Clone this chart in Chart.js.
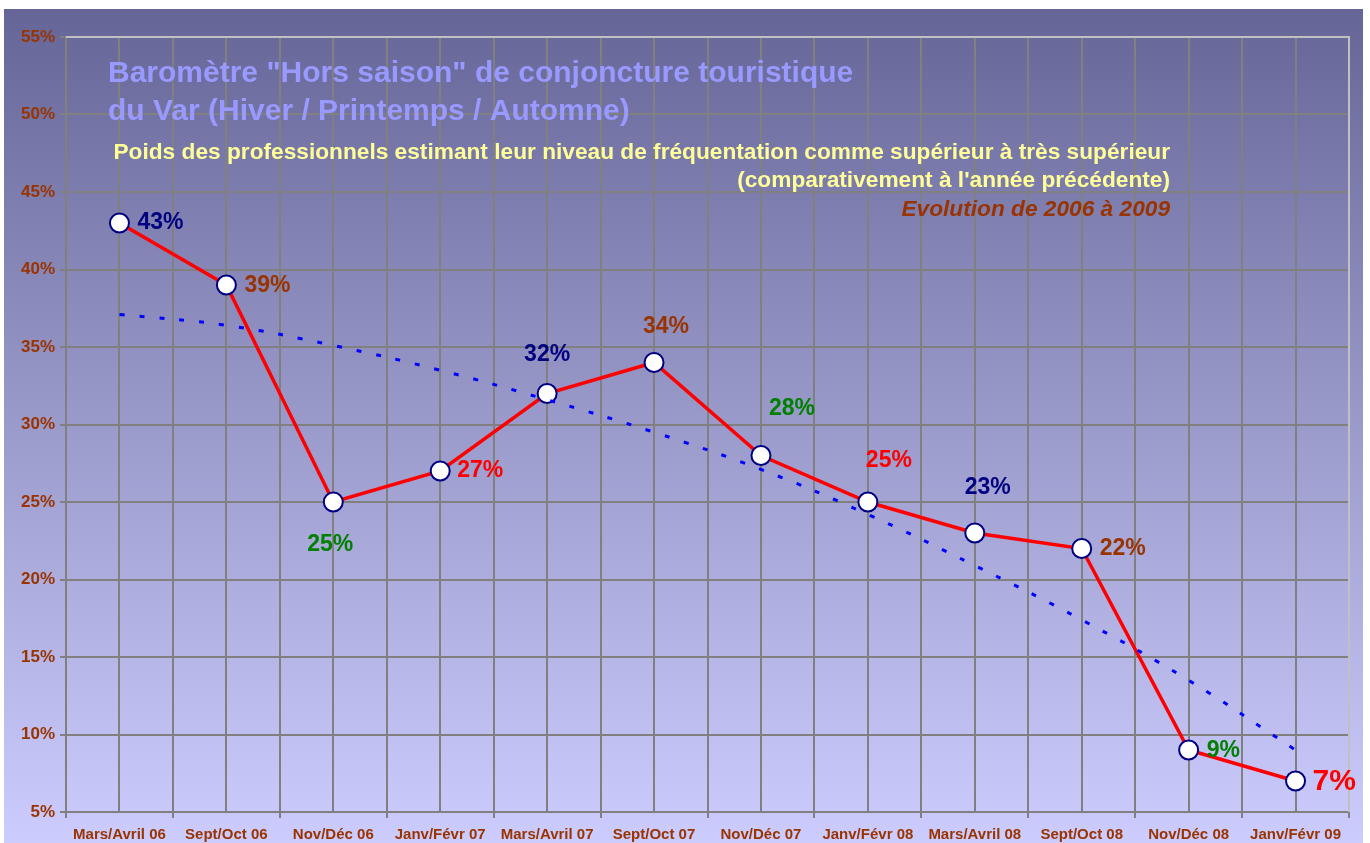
<!DOCTYPE html>
<html>
<head>
<meta charset="utf-8">
<script src="https://cdn.jsdelivr.net/npm/chart.js@4.4.0/dist/chart.umd.min.js"></script>
<style>
  html, body { margin: 0; padding: 0; background: #ffffff; }
  #wrap { width: 1370px; height: 843px; }
</style>
</head>
<body>
<div id="wrap"><canvas id="myChart" width="1370" height="843"></canvas></div>
<script>
// data
const periods = ['Mars/Avril 06', 'Sept/Oct 06', 'Nov/Déc 06', 'Janv/Févr 07', 'Mars/Avril 07', 'Sept/Oct 07',
                 'Nov/Déc 07', 'Janv/Févr 08', 'Mars/Avril 08', 'Sept/Oct 08', 'Nov/Déc 08', 'Janv/Févr 09'];
const shares = [43, 39, 25, 27, 32, 34, 28, 25, 23, 22, 9, 7];
const trend = [37.1, 36.4, 35.1, 33.5, 31.6, 29.5, 27.1, 24.2, 20.9, 17.4, 13.5, 9.0];
const yTicks = [5, 10, 15, 20, 25, 30, 35, 40, 45, 50, 55];

// label styling (colour, offset from the point, alignment)
const labelColors = ['#000080', '#993300', '#008000', '#ff0000', '#000080', '#993300',
                     '#008000', '#ff0000', '#000080', '#993300', '#008000', '#ff0000'];
const labelPos = [
    { dx: 18, dy: 0, align: 'left' }, { dx: 18, dy: 1, align: 'left' }, { dx: -3, dy: 43, align: 'center' },
    { dx: 17, dy: 0, align: 'left' }, { dx: 0, dy: -39, align: 'center' }, { dx: 12, dy: -36, align: 'center' },
    { dx: 31, dy: -47, align: 'center' }, { dx: 21, dy: -41, align: 'center' }, { dx: 13, dy: -45, align: 'center' },
    { dx: 18, dy: 0, align: 'left' }, { dx: 18, dy: 1, align: 'left' }, { dx: 17, dy: 1, align: 'left' }
];

const FONT = '"Liberation Sans", Arial, sans-serif';

const backdrop = {
    id: 'backdrop',
    beforeDraw(chart) {
        const c = chart.ctx;
        const g = c.createLinearGradient(0, 9, 0, 843);
        g.addColorStop(0, '#656597');
        g.addColorStop(0.5, '#9a9acb');
        g.addColorStop(1, '#ccccfe');
        c.save();
        c.fillStyle = g;
        c.fillRect(4, 9, 1359, 834);
        c.restore();
    }
};

const titles = {
    id: 'titles',
    beforeDatasetsDraw(chart) {
        const c = chart.ctx;
        const a = chart.chartArea;
        c.save();
        c.strokeStyle = '#c0c0c0';
        c.lineWidth = 2;
        c.beginPath();
        c.moveTo(a.left, a.top);
        c.lineTo(a.right, a.top);
        c.lineTo(a.right, a.bottom);
        c.stroke();

        c.textBaseline = 'middle';
        c.fillStyle = '#9999ff';
        c.font = 'bold 30px ' + FONT;
        c.textAlign = 'left';
        c.fillText('Baromètre "Hors saison" de conjoncture touristique', 108, 74);
        c.fillText('du Var (Hiver / Printemps / Automne)', 108, 112);

        c.fillStyle = '#ffff99';
        c.font = 'bold 22.7px ' + FONT;
        c.textAlign = 'right';
        c.fillText('Poids des professionnels estimant leur niveau de fréquentation comme supérieur à très supérieur', 1170, 153);
        c.fillText("(comparativement à l'année précédente)", 1170, 181);

        c.fillStyle = '#993300';
        c.font = 'italic bold 22.7px ' + FONT;
        c.fillText('Evolution de 2006 à 2009', 1170, 210);
        c.restore();
    }
};

const valueLabels = {
    id: 'valueLabels',
    afterDatasetsDraw(chart) {
        const c = chart.ctx;
        const meta = chart.getDatasetMeta(1);
        c.save();
        c.textBaseline = 'middle';
        meta.data.forEach((pt, i) => {
            const p = labelPos[i];
            c.fillStyle = labelColors[i];
            c.font = 'bold ' + (i === shares.length - 1 ? 30 : 23) + 'px ' + FONT;
            c.textAlign = p.align;
            c.fillText(shares[i] + '%', pt.x + p.dx, pt.y + p.dy);
        });
        c.restore();
    }
};

const ctx = document.getElementById('myChart').getContext('2d');
new Chart(ctx, {
    type: 'line',
    data: {
        datasets: [{
            label: 'Tendance',
            data: trend.map((v, i) => ({ x: i, y: v })),
            borderColor: '#0000ff',
            borderWidth: 3,
            borderDash: [5, 15],
            pointRadius: 0,
            tension: 0.4,
            fill: false
        }, {
            label: 'Poids',
            data: shares.map((v, i) => ({ x: i, y: v })),
            borderColor: '#ff0000',
            borderWidth: 3.5,
            pointRadius: 9.5,
            pointBackgroundColor: '#ffffff',
            pointBorderColor: '#000080',
            pointBorderWidth: 2,
            tension: 0,
            fill: false
        }]
    },
    options: {
        responsive: false,
        animation: false,
        events: [],
        layout: { padding: { left: 0, top: 37, right: 21, bottom: 0 } },
        plugins: { legend: { display: false }, tooltip: { enabled: false }, title: { display: false } },
        scales: {
            x: {
                type: 'linear',
                min: -0.5,
                max: 11.5,
                afterBuildTicks(scale) {
                    const t = [];
                    for (let k = 0; k <= periods.length * 2; k++) t.push({ value: -0.5 + k / 2 });
                    scale.ticks = t;
                },
                afterFit(scale) { scale.height = 31; },
                grid: {
                    color: '#808080',
                    lineWidth: 2,
                    tickLength: 6,
                    tickColor: (c) => Number.isInteger(c.tick.value) ? 'rgba(0,0,0,0)' : '#808080',
                    drawOnChartArea: true
                },
                border: { color: '#808080', width: 2 },
                ticks: {
                    autoSkip: false,
                    maxRotation: 0,
                    padding: 8,
                    color: '#993300',
                    font: { family: FONT, weight: 'bold', size: 15 },
                    callback: (v) => Number.isInteger(v) ? periods[v] : ''
                }
            },
            y: {
                min: 5,
                max: 55,
                afterBuildTicks(scale) { scale.ticks = yTicks.map(v => ({ value: v })); },
                afterFit(scale) { scale.width = 66; },
                grid: { color: '#808080', lineWidth: 2, tickLength: 6 },
                border: { color: '#808080', width: 2 },
                ticks: {
                    padding: 5,
                    color: '#993300',
                    font: { family: FONT, weight: 'bold', size: 17 },
                    callback: (v) => v + '%'
                }
            }
        }
    },
    plugins: [backdrop, titles, valueLabels]
});
</script>
</body>
</html>
